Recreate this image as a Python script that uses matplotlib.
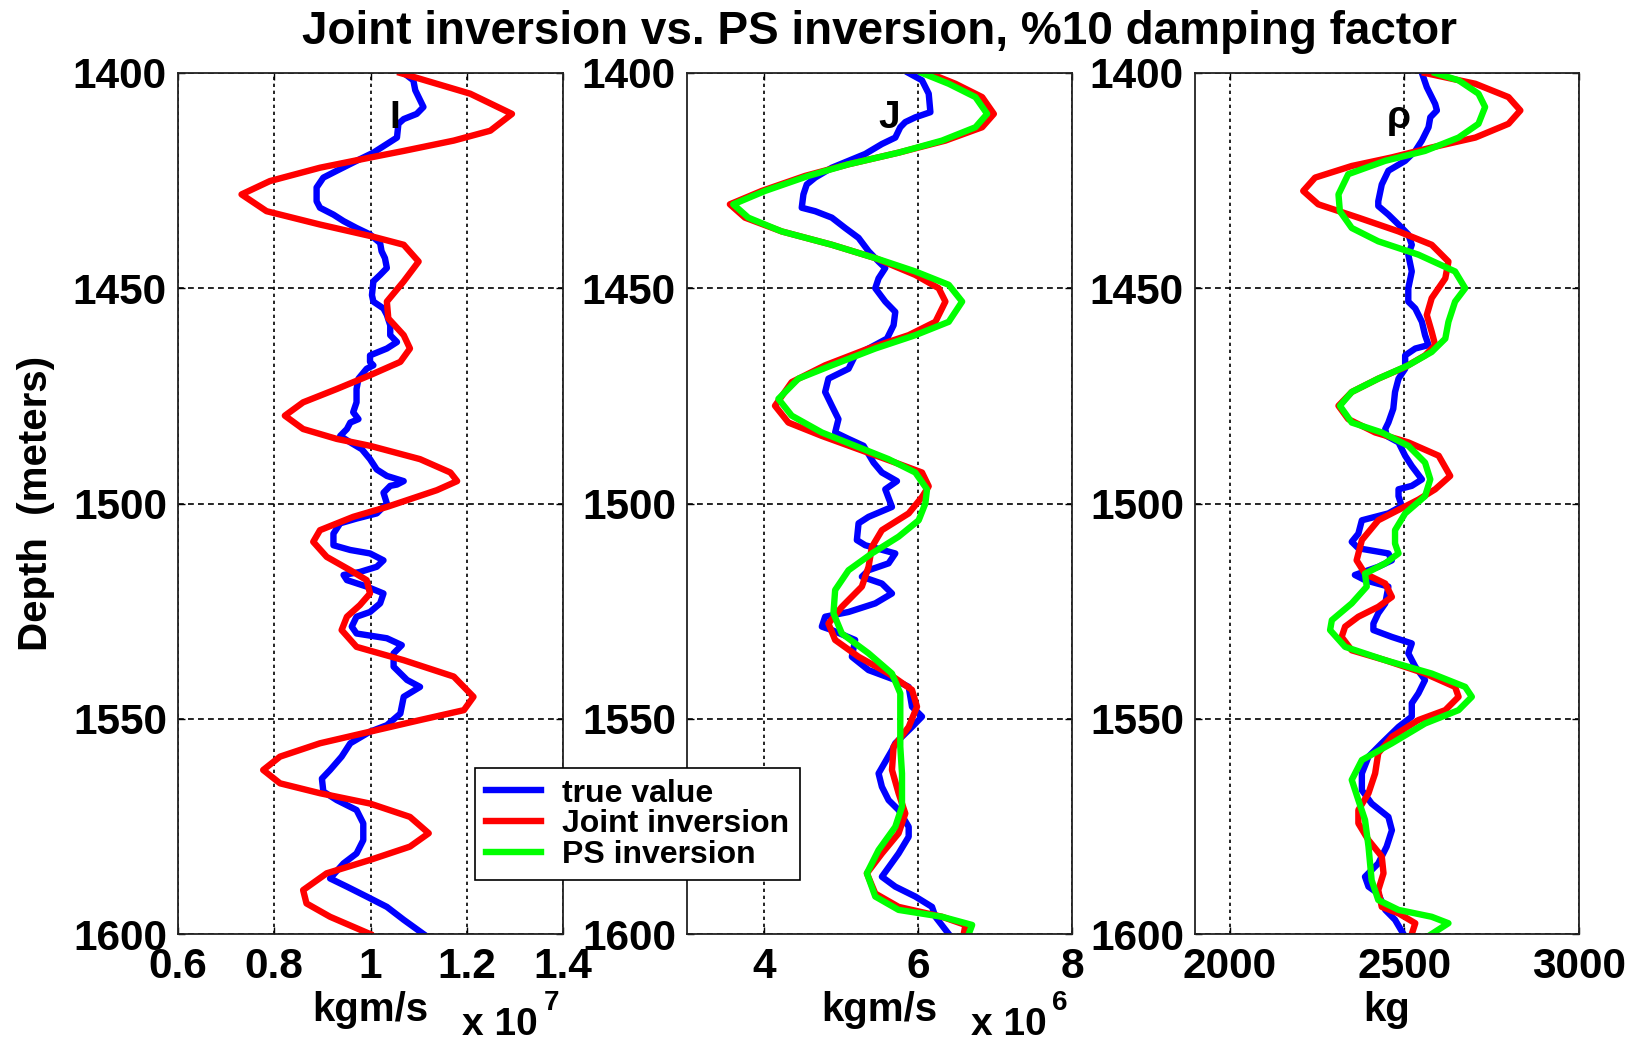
import numpy as np
import matplotlib
matplotlib.use("Agg")
import matplotlib.pyplot as plt

plt.rcParams['font.family'] = ['Liberation Sans', 'DejaVu Sans']
plt.rcParams['font.weight'] = 'bold'

# ---------------- data ----------------
# Panel 1: P-impedance I, values in units of 1e7 kgm/s
I_true_depth = [1400.0, 1401.7, 1404.0, 1407.9, 1409.5, 1410.7, 1411.8, 1415.0, 1416.5, 1418.5,
                1420.4, 1422.7, 1424.3, 1426.6, 1429.8, 1431.3, 1432.9, 1434.4, 1436.0, 1437.5,
                1439.5, 1441.4, 1443.0, 1445.3, 1446.9, 1448.4, 1451.6, 1453.1, 1454.7, 1456.2,
                1458.6, 1460.9, 1462.5, 1464.0, 1465.6, 1467.1, 1467.9, 1468.7, 1471.0, 1473.4,
                1476.5, 1478.8, 1480.4, 1481.2, 1482.7, 1484.3, 1485.8, 1487.4, 1489.7, 1492.1,
                1493.6, 1494.8, 1495.6, 1495.9, 1497.5,
                1500.0, 1502.3, 1503.5, 1504.6, 1507.0, 1509.7, 1510.8, 1511.6, 1513.2, 1514.7,
                1515.9, 1516.6, 1517.8, 1519.3, 1520.9, 1523.2, 1525.2, 1526.3, 1528.6, 1530.2,
                1531.3, 1532.9, 1534.8, 1537.9, 1541.0, 1542.6, 1544.9, 1548.8, 1551.5, 1553.0,
                1555.7, 1558.8, 1561.9, 1563.9, 1566.9, 1568.9, 1571.2, 1574.3, 1578.2, 1581.3,
                1583.6, 1587.1, 1589.0, 1591.3, 1593.7, 1596.7, 1600.0]
I_true = [1.069, 1.089, 1.093, 1.110, 1.096, 1.069, 1.058, 1.055, 1.034, 1.006,
          0.971, 0.930, 0.902, 0.888, 0.888, 0.895, 0.923, 0.944, 0.971, 0.999,
          1.020, 1.023, 1.030, 1.034, 1.020, 1.006, 1.003, 1.006, 1.027, 1.034,
          1.041, 1.041, 1.055, 1.034, 0.999, 0.999, 1.006, 0.992, 0.975, 0.971,
          0.971, 0.964, 0.975, 0.958, 0.951, 0.937, 0.958, 0.982, 0.999, 1.013,
          1.034, 1.069, 1.055, 1.041, 1.027,
          1.034, 1.013, 0.971, 0.937, 0.923, 0.923, 0.958, 0.999, 1.027, 1.013,
          0.978, 0.944, 0.951, 0.992, 1.027, 1.020, 0.999, 0.971, 0.961, 0.971,
          1.034, 1.065, 1.048, 1.048, 1.076, 1.103, 1.069, 1.062, 1.034, 0.999,
          0.958, 0.940, 0.916, 0.899, 0.902, 0.930, 0.971, 0.985, 0.985, 0.971,
          0.944, 0.916, 0.951, 0.992, 1.034, 1.069, 1.110]

I_joint_depth = [1400.0, 1404.8, 1409.5, 1413.4, 1415.7, 1418.1, 1419.6, 1422.0, 1425.1, 1428.2,
                 1432.1, 1435.2, 1437.9, 1439.9, 1443.8, 1448.4, 1453.1, 1457.0, 1460.9, 1464.0,
                 1467.1, 1470.2, 1473.4, 1476.5, 1479.6, 1482.7, 1485.0, 1486.6, 1489.7, 1492.8,
                 1494.8, 1496.9, 1500.8, 1503.1, 1506.2, 1508.9, 1512.4, 1515.5, 1517.8, 1520.9,
                 1523.6, 1526.3, 1529.4, 1533.3, 1536.4, 1540.2, 1544.9, 1548.0, 1550.3, 1553.0,
                 1555.7, 1558.8, 1561.9, 1565.0, 1567.3, 1569.7, 1572.8, 1576.6, 1579.7, 1582.8,
                 1585.9, 1589.8, 1592.9, 1596.0, 1600.0]
I_joint = [1.062, 1.207, 1.294, 1.249, 1.173, 1.069, 1.001, 0.895, 0.791, 0.732,
           0.784, 0.895, 1.001, 1.069, 1.100, 1.069, 1.034, 1.037, 1.069, 1.082,
           1.062, 0.999, 0.930, 0.860, 0.822, 0.860, 0.930, 0.999, 1.103, 1.166,
           1.180, 1.138, 1.034, 0.964, 0.895, 0.881, 0.909, 0.958, 0.992, 0.999,
           0.978, 0.951, 0.940, 0.971, 1.069, 1.173, 1.214, 1.194, 1.103, 0.999,
           0.895, 0.812, 0.777, 0.812, 0.895, 0.999, 1.082, 1.121, 1.082, 0.999,
           0.909, 0.860, 0.867, 0.916, 0.999]

# Panel 2: S-impedance J, values in units of 1e6 kgm/s
J_true_depth = [1400.0, 1401.7, 1404.8, 1409.1, 1410.3, 1411.4, 1412.6, 1415.0, 1416.5, 1418.8,
                1420.4, 1422.0, 1424.3, 1425.9, 1428.2, 1431.3, 1432.1, 1433.6, 1436.0, 1438.3,
                1441.4, 1443.8, 1445.3, 1447.7, 1450.0, 1453.1, 1455.5, 1458.6, 1461.7, 1464.0,
                1465.6, 1468.7, 1471.0, 1474.1, 1477.3, 1480.4, 1483.5, 1485.0, 1486.6, 1490.5,
                1492.8, 1494.8, 1496.7,
                1500.8, 1503.1, 1504.6, 1508.5, 1509.7, 1511.6, 1513.9, 1515.5, 1517.0, 1518.6,
                1520.9, 1523.2, 1525.2, 1526.3, 1528.6, 1529.4, 1531.7, 1535.6, 1538.7, 1541.0,
                1542.6, 1547.2, 1549.5, 1551.9, 1555.7, 1557.3, 1562.7, 1565.8, 1568.9, 1571.2,
                1575.1, 1577.4, 1581.3, 1586.7, 1589.0, 1591.3, 1593.7, 1596.0, 1600.0]
J_true = [5.879, 6.052, 6.139, 6.161, 5.965, 5.835, 5.770, 5.705, 5.531, 5.315,
          5.098, 4.881, 4.664, 4.555, 4.512, 4.490, 4.664, 4.881, 5.054, 5.228,
          5.358, 5.488, 5.575, 5.488, 5.445, 5.575, 5.705, 5.683, 5.597, 5.358,
          5.184, 5.098, 4.837, 4.794, 4.881, 4.967, 4.924, 5.098, 5.293, 5.423,
          5.531, 5.727, 5.575,
          5.662, 5.358, 5.228, 5.206, 5.315, 5.705, 5.618, 5.358, 5.271, 5.531,
          5.662, 5.445, 5.098, 4.794, 4.751, 4.881, 5.184, 5.141, 5.358, 5.705,
          5.879, 5.922, 6.052, 5.922, 5.705, 5.662, 5.488, 5.531, 5.618, 5.748,
          5.879, 5.879, 5.748, 5.531, 5.705, 5.965, 6.182, 6.226, 6.399]

J_joint_depth = [1400.0, 1402.5, 1405.6, 1409.5, 1412.6, 1415.7, 1418.5, 1421.2, 1423.9, 1427.4,
                 1430.5, 1433.6, 1436.8, 1439.9, 1443.0, 1446.9, 1450.0, 1453.1, 1457.8, 1460.9,
                 1464.0, 1467.9, 1471.8, 1477.3, 1481.2, 1484.3, 1487.4, 1490.5, 1492.8, 1496.0,
                 1498.5, 1502.3, 1506.2, 1510.1, 1514.7, 1519.3, 1524.0, 1527.9, 1531.7, 1535.6,
                 1539.5, 1543.3, 1547.2, 1551.9, 1556.5, 1561.9, 1567.3, 1572.0, 1576.6, 1581.3,
                 1585.9, 1590.6, 1593.7, 1596.0, 1597.9, 1600.0]
J_joint = [6.139, 6.486, 6.833, 6.985, 6.833, 6.356, 5.748, 5.098, 4.534, 3.970,
           3.557, 3.753, 4.230, 4.881, 5.445, 5.965, 6.269, 6.356, 6.226, 5.879,
           5.358, 4.794, 4.360, 4.143, 4.317, 4.751, 5.228, 5.705, 6.052, 6.139,
           6.052, 5.879, 5.531, 5.401, 5.358, 5.271, 5.011, 4.837, 4.924, 5.228,
           5.618, 5.922, 5.987, 5.879, 5.683, 5.662, 5.748, 5.835, 5.748, 5.531,
           5.336, 5.445, 5.748, 6.312, 6.616, 6.594]

J_ps_depth = [1400.0, 1402.5, 1405.6, 1409.5, 1412.6, 1415.7, 1418.5, 1421.2, 1423.9, 1427.4,
              1430.5, 1433.6, 1436.8, 1439.9, 1443.0, 1446.1, 1449.2, 1453.1, 1457.8, 1460.9,
              1464.0, 1467.9, 1471.0, 1475.7, 1479.6, 1483.5, 1486.6, 1489.7, 1492.8, 1496.7,
              1500.0, 1503.9, 1507.7, 1511.6, 1515.5, 1520.1, 1525.5, 1530.2, 1534.8, 1539.5,
              1544.1, 1550.3, 1556.5, 1562.7, 1570.4, 1575.1, 1580.5, 1585.9, 1591.3, 1594.4,
              1596.0, 1597.9, 1600.0]
J_ps = [6.052, 6.399, 6.746, 6.898, 6.746, 6.312, 5.748, 5.098, 4.577, 4.013,
        3.601, 3.796, 4.230, 4.881, 5.445, 5.965, 6.399, 6.573, 6.399, 5.965,
        5.445, 4.881, 4.447, 4.187, 4.360, 4.751, 5.184, 5.618, 5.965, 6.117,
        6.095, 6.009, 5.748, 5.401, 5.098, 4.924, 4.902, 5.011, 5.358, 5.662,
        5.770, 5.770, 5.770, 5.792, 5.792, 5.705, 5.488, 5.336, 5.445, 5.748,
        6.312, 6.703, 6.659]

# Panel 3: density rho (kg)
rho_true_depth = [1400.0, 1403.3, 1407.2, 1408.7, 1410.3, 1412.6, 1415.7, 1418.1, 1420.4, 1422.7,
                  1425.9, 1429.8, 1430.9, 1432.9, 1435.2, 1437.5, 1439.9, 1442.2, 1446.1, 1450.0,
                  1453.1, 1454.7, 1457.8, 1460.9, 1463.2, 1464.0, 1465.6, 1468.7, 1471.0, 1474.1,
                  1478.0, 1481.2, 1482.7, 1484.3, 1485.8, 1488.9, 1491.3, 1494.4, 1495.9, 1496.7,
                  1498.3, 1500.6,
                  1502.3, 1503.9, 1507.0, 1508.9, 1510.4, 1511.6, 1513.2, 1514.7, 1516.6, 1517.8,
                  1519.3, 1523.2, 1525.5, 1527.9, 1529.4, 1531.0, 1532.5, 1534.8, 1537.9, 1541.0,
                  1544.1, 1546.4, 1549.5, 1551.9, 1555.7, 1558.8, 1562.7, 1566.6, 1569.7, 1572.8,
                  1575.9, 1579.7, 1583.6, 1586.7, 1589.0, 1590.6, 1594.4, 1596.7, 1600.0]
rho_true = [2550, 2564, 2588, 2593, 2574, 2569, 2550, 2531, 2502, 2454,
            2435, 2425, 2425, 2454, 2483, 2511, 2521, 2511, 2521, 2511,
            2511, 2531, 2550, 2559, 2569, 2531, 2502, 2502, 2483, 2473,
            2468, 2454, 2445, 2449, 2483, 2502, 2521, 2550, 2521, 2483,
            2483, 2492,
            2454, 2378, 2368, 2349, 2368, 2454, 2464, 2425, 2358, 2387,
            2454, 2445, 2425, 2411, 2411, 2464, 2521, 2511, 2531, 2559,
            2540, 2521, 2521, 2483, 2435, 2397, 2378, 2378, 2406, 2454,
            2464, 2449, 2425, 2387, 2397, 2425, 2445, 2473, 2497]

rho_joint_depth = [1400.0, 1402.5, 1405.6, 1408.7, 1411.8, 1415.0, 1417.3, 1419.6, 1421.6, 1424.3,
                   1427.4, 1430.5, 1433.6, 1436.8, 1439.9, 1443.8, 1447.7, 1452.3, 1456.2, 1460.1,
                   1463.2, 1465.6, 1468.3, 1471.0, 1474.1, 1477.3, 1480.4, 1483.5, 1485.8, 1488.9,
                   1493.6, 1496.7, 1499.1,
                   1503.9, 1508.5, 1513.2, 1516.3, 1518.6, 1521.7, 1524.0, 1526.3, 1528.6, 1531.0,
                   1534.1, 1536.4, 1539.5, 1542.6, 1544.9, 1548.0, 1550.3, 1554.2, 1558.0, 1562.7,
                   1567.3, 1571.2, 1574.3, 1578.2, 1582.0, 1585.9, 1589.8, 1593.7, 1595.2, 1597.5,
                   1600.0]
rho_joint = [2559, 2703, 2798, 2832, 2798, 2703, 2578, 2464, 2349, 2244,
             2210, 2253, 2368, 2483, 2578, 2626, 2617, 2578, 2564, 2578,
             2588, 2559, 2502, 2425, 2349, 2311, 2339, 2416, 2511, 2598,
             2631, 2588, 2540,
             2425, 2378, 2363, 2387, 2445, 2464, 2425, 2368, 2330, 2320,
             2349, 2445, 2559, 2645, 2655, 2617, 2540, 2464, 2425, 2416,
             2397, 2368, 2368, 2397, 2435, 2440, 2425, 2435, 2483, 2531,
             2521]

rho_ps_depth = [1400.0, 1401.7, 1404.8, 1407.9, 1411.8, 1415.0, 1418.1, 1420.4, 1423.5, 1428.2,
                1432.1, 1436.0, 1439.1, 1442.2, 1446.1, 1450.0, 1453.1, 1457.8, 1461.7, 1464.8,
                1467.9, 1471.0, 1474.1, 1477.3, 1481.2, 1483.5, 1486.6, 1490.5, 1494.4, 1498.3,
                1502.3, 1506.2, 1509.3, 1511.6, 1513.9, 1516.3, 1519.3, 1523.2, 1527.1, 1529.4,
                1533.3, 1536.4, 1539.5, 1542.6, 1544.9, 1548.0, 1551.1, 1555.7, 1559.6, 1564.2,
                1568.9, 1573.5, 1579.7, 1587.5, 1592.1, 1594.4, 1596.0, 1597.5, 1600.0]
rho_ps = [2588, 2655, 2712, 2731, 2712, 2655, 2559, 2445, 2339, 2311,
          2315, 2349, 2425, 2540, 2645, 2674, 2645, 2626, 2617, 2578,
          2511, 2425, 2349, 2315, 2349, 2435, 2511, 2559, 2574, 2559,
          2502, 2473, 2473, 2483, 2445, 2387, 2392, 2349, 2292, 2287,
          2330, 2445, 2578, 2674, 2693, 2655, 2559, 2464, 2378, 2349,
          2368, 2387, 2397, 2406, 2425, 2483, 2578, 2626, 2578]

depth_ticks = [1400, 1450, 1500, 1550, 1600]
series_names = ["true value", "Joint inversion", "PS inversion"]
panel_letters = ["I", "J", "\u03c1"]
xunits = ["kgm/s", "kgm/s", "kg"]

# ---------------- figure ----------------
W, H = 1642, 1044
fig = plt.figure(figsize=(W / 100, H / 100), dpi=100)

def px_rect(x0, x1, y0, y1):
    return [x0 / W, 1 - y1 / H, (x1 - x0) / W, (y1 - y0) / H]

ax1 = fig.add_axes(px_rect(178, 563, 73, 934))
ax2 = fig.add_axes(px_rect(687, 1072, 73, 934))
ax3 = fig.add_axes(px_rect(1195, 1579, 73, 934))

BLUE, RED, GREEN = '#0000ff', '#ff0000', '#00ff00'
LW = 4.6

l1, = ax1.plot(I_true, I_true_depth, color=BLUE, lw=LW)
l2, = ax1.plot(I_joint, I_joint_depth, color=RED, lw=LW)

ax2.plot(J_true, J_true_depth, color=BLUE, lw=LW)
ax2.plot(J_joint, J_joint_depth, color=RED, lw=LW)
l3, = ax2.plot(J_ps, J_ps_depth, color=GREEN, lw=LW)

ax3.plot(rho_true, rho_true_depth, color=BLUE, lw=LW)
ax3.plot(rho_joint, rho_joint_depth, color=RED, lw=LW)
ax3.plot(rho_ps, rho_ps_depth, color=GREEN, lw=LW)

xlims = [(0.6, 1.4), (3, 8), (1900, 3000)]
xticks = [[0.6, 0.8, 1.0, 1.2, 1.4], [4, 6, 8], [2000, 2500, 3000]]
xticklabels = [["0.6", "0.8", "1", "1.2", "1.4"], ["4", "6", "8"], ["2000", "2500", "3000"]]
letter_x = [1.051, 5.62, 2483]

for ax, xl, xt, xtl, unit, let, lx in zip([ax1, ax2, ax3], xlims, xticks, xticklabels,
                                          xunits, panel_letters, letter_x):
    ax.set_xlim(*xl)
    ax.set_ylim(1600, 1400)
    ax.set_xticks(xt)
    ax.set_xticklabels(xtl)
    ax.set_yticks(depth_ticks)
    ax.set_yticklabels([str(d) for d in depth_ticks])
    ax.tick_params(axis='both', direction='in', length=5, width=1, labelsize=30.5,
                   top=True, right=True, colors='k')
    ax.tick_params(axis='y', pad=8)
    ax.tick_params(axis='x', pad=9)
    for lab in ax.get_xticklabels() + ax.get_yticklabels():
        lab.set_fontweight('bold')
    ax.set_axisbelow(True)
    ax.xaxis.grid(True, color='k', linestyle=(0, (2.0, 2.2)), lw=1.2)
    ax.yaxis.grid(True, color='k', linestyle=(0, (3.5, 2.5)), lw=1.2)
    for s in ax.spines.values():
        s.set_linewidth(1.3)
        s.set_color('#222222')
    ax.set_xlabel(unit, fontsize=29, fontweight='bold')
    ax.xaxis.set_label_coords(0.5, -0.066)
    ax.text(lx, 1412.8, let, fontsize=28, fontweight='bold', ha='center', va='baseline')

# exponent notes
for ax, e in [(ax1, "7"), (ax2, "6")]:
    ax.text(0.935, -0.117, "x 10", transform=ax.transAxes, fontsize=28, fontweight='bold',
            ha='right', va='baseline')
    ax.text(0.949, -0.088, e, transform=ax.transAxes, fontsize=20, fontweight='bold',
            ha='left', va='baseline')

ax1.set_ylabel("Depth  (meters)", fontsize=29, fontweight='bold')
ax1.yaxis.set_label_coords(-0.32, 0.5)

ax2.set_title("Joint inversion vs. PS inversion, %10 damping factor",
              fontsize=33, fontweight='bold', pad=21)

leg = fig.legend([l1, l2, l3], series_names, loc='upper left',
                 bbox_to_anchor=(475 / W, 1 - 768 / H), bbox_transform=fig.transFigure,
                 borderaxespad=0, prop={'weight': 'bold', 'size': 23},
                 handlelength=1.75, handletextpad=0.65, labelspacing=0.02,
                 borderpad=0.33, fancybox=False, framealpha=1, edgecolor='k')
leg.get_frame().set_linewidth(1.2)
leg.set_zorder(10)

fig.savefig("out.png", dpi=100)
